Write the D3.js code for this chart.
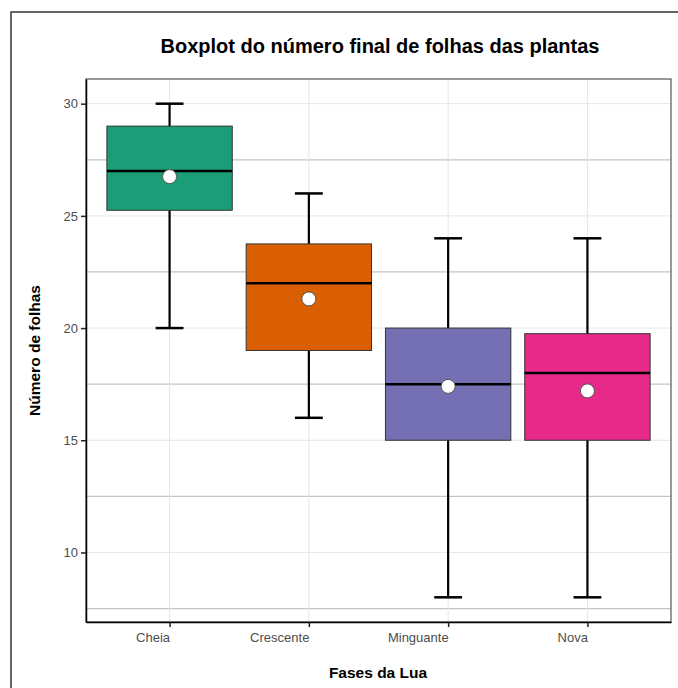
<!DOCTYPE html>
<html>
<head>
<meta charset="utf-8">
<script src="https://cdn.jsdelivr.net/npm/d3@7"></script>
<style>
  body { margin: 0; background: white; }
  text { font-family: "Liberation Sans", Arial, sans-serif; }
</style>
</head>
<body>
<div id="container"></div>
<script>
let w = 678;
let h = 688;

// data
let phases = ["Cheia", "Crescente", "Minguante", "Nova"];
let whiskerLow = [20, 16, 8, 8];
let q1 = [25.25, 19, 15, 15];
let medians = [27, 22, 17.5, 18];
let q3 = [29, 23.75, 20, 19.75];
let whiskerHigh = [30, 26, 24, 24];
let means = [26.75, 21.3, 17.4, 17.2];
let colors = ["#1B9E77", "#D95F02", "#7570B3", "#E7298A"];
let yTicks = [10, 15, 20, 25, 30];
let yMinor = [7.5, 12.5, 17.5, 22.5, 27.5];

let boxes = phases.map((p, i) => ({
  phase: p, lo: whiskerLow[i], q1: q1[i], med: medians[i],
  q3: q3[i], hi: whiskerHigh[i], mean: means[i], color: colors[i]
}));

let pLeft = 86, pRight = 671, pTop = 79, pBottom = 622;

let viz = d3.select("#container").append("svg")
  .attr("width", w)
  .attr("height", h)
  .style("background-color", "white");

// outer frame
viz.append("path")
  .attr("d", `M11,${h} L11,12 L${w},12`)
  .attr("fill", "none")
  .attr("stroke", "#333")
  .attr("stroke-width", 1.5);

let yScale = d3.scaleLinear().domain([6.9, 31.1]).range([pBottom, pTop]);
// ggplot style discrete axis: 0.6 unit padding each side
let xScale = d3.scalePoint().domain(phases).range([pLeft, pRight]).padding(0.6);
let unit = xScale.step();
let boxW = 0.9 * unit;
let capW = 0.2 * unit;

// grid
viz.selectAll(".minor").data(yMinor).enter()
  .append("line")
  .attr("class", "minor")
  .attr("x1", pLeft).attr("x2", pRight)
  .attr("y1", d => yScale(d)).attr("y2", d => yScale(d))
  .attr("stroke", "#c4c4c4")
  .attr("stroke-width", 1.2);

viz.selectAll(".major").data(yTicks).enter()
  .append("line")
  .attr("class", "major")
  .attr("x1", pLeft).attr("x2", pRight)
  .attr("y1", d => yScale(d)).attr("y2", d => yScale(d))
  .attr("stroke", "#e6e6e6")
  .attr("stroke-width", 1);

viz.selectAll(".vgrid").data(phases).enter()
  .append("line")
  .attr("class", "vgrid")
  .attr("x1", d => xScale(d)).attr("x2", d => xScale(d))
  .attr("y1", pTop).attr("y2", pBottom)
  .attr("stroke", "#e6e6e6")
  .attr("stroke-width", 1);

// panel border
viz.append("rect")
  .attr("x", pLeft).attr("y", pTop)
  .attr("width", pRight - pLeft).attr("height", pBottom - pTop)
  .attr("fill", "none")
  .attr("stroke", "#555")
  .attr("stroke-width", 1.2);

// boxes
let g = viz.selectAll(".box").data(boxes).enter()
  .append("g")
  .attr("class", "box");

g.append("line")
  .attr("x1", d => xScale(d.phase)).attr("x2", d => xScale(d.phase))
  .attr("y1", d => yScale(d.lo)).attr("y2", d => yScale(d.hi))
  .attr("stroke", "black").attr("stroke-width", 2.2);

g.append("line")
  .attr("x1", d => xScale(d.phase) - capW / 2).attr("x2", d => xScale(d.phase) + capW / 2)
  .attr("y1", d => yScale(d.hi)).attr("y2", d => yScale(d.hi))
  .attr("stroke", "black").attr("stroke-width", 2.5);

g.append("line")
  .attr("x1", d => xScale(d.phase) - capW / 2).attr("x2", d => xScale(d.phase) + capW / 2)
  .attr("y1", d => yScale(d.lo)).attr("y2", d => yScale(d.lo))
  .attr("stroke", "black").attr("stroke-width", 2.5);

g.append("rect")
  .attr("x", d => xScale(d.phase) - boxW / 2)
  .attr("width", boxW)
  .attr("y", d => yScale(d.q3))
  .attr("height", d => yScale(d.q1) - yScale(d.q3))
  .attr("fill", d => d.color)
  .attr("stroke", "#333")
  .attr("stroke-width", 1);

g.append("line")
  .attr("x1", d => xScale(d.phase) - boxW / 2).attr("x2", d => xScale(d.phase) + boxW / 2)
  .attr("y1", d => yScale(d.med)).attr("y2", d => yScale(d.med))
  .attr("stroke", "black").attr("stroke-width", 2.5);

g.append("circle")
  .attr("cx", d => xScale(d.phase))
  .attr("cy", d => yScale(d.mean))
  .attr("r", 7)
  .attr("fill", "white")
  .attr("stroke", "#555")
  .attr("stroke-width", 1);

// axes
let yAxis = viz.append("g")
  .attr("transform", `translate(${pLeft},0)`)
  .call(d3.axisLeft(yScale).tickValues(yTicks).tickSize(5).tickSizeOuter(0).tickPadding(3));
let xAxis = viz.append("g")
  .attr("transform", `translate(0,${pBottom})`)
  .call(d3.axisBottom(xScale).tickSize(5).tickSizeOuter(0).tickPadding(6));

[yAxis, xAxis].forEach(a => {
  a.select(".domain").attr("stroke", "black").attr("stroke-width", 1.5);
  a.selectAll(".tick line").attr("stroke", "#222").attr("stroke-width", 1.5);
  a.selectAll(".tick text")
    .attr("fill", "#4d4d4d")
    .style("font-size", "13px")
    .style("font-family", "'Liberation Sans', Arial, sans-serif");
});
// x labels are right-aligned on their ticks
xAxis.selectAll(".tick text").attr("text-anchor", "end");

// titles
viz.append("text")
  .attr("x", 380).attr("y", 53)
  .attr("text-anchor", "middle")
  .style("font-size", "20px")
  .style("font-weight", "bold")
  .text("Boxplot do número final de folhas das plantas");

viz.append("text")
  .attr("x", 378).attr("y", 678)
  .attr("text-anchor", "middle")
  .style("font-size", "15.5px")
  .style("font-weight", "bold")
  .text("Fases da Lua");

viz.append("text")
  .attr("transform", `translate(40,${(pTop + pBottom) / 2}) rotate(-90)`)
  .attr("text-anchor", "middle")
  .style("font-size", "15.5px")
  .style("font-weight", "bold")
  .text("Número de folhas");
</script>
</body>
</html>
